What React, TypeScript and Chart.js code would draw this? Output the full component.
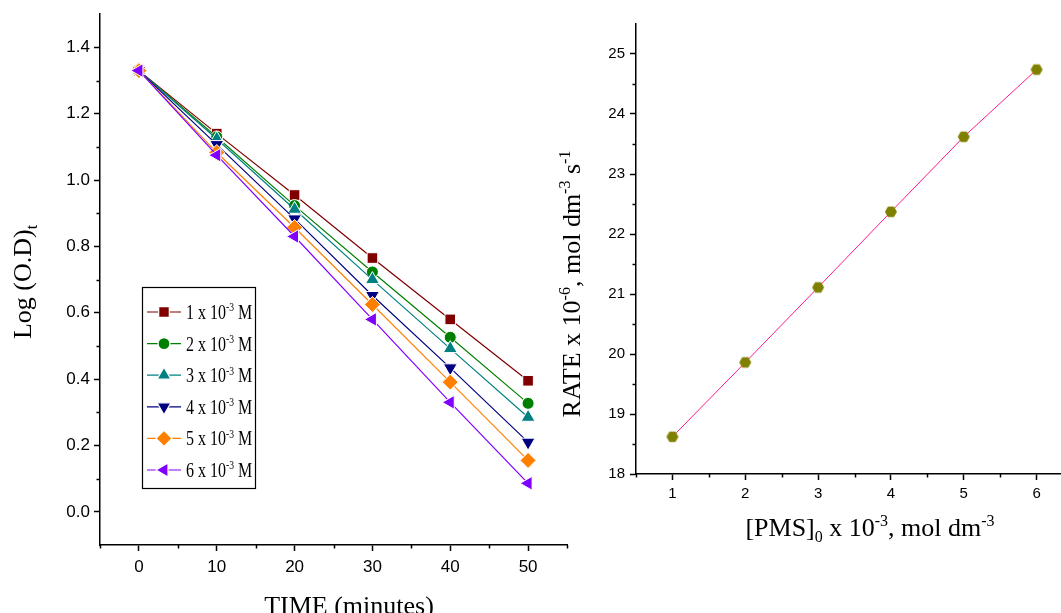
import React, { useEffect, useRef } from 'react';
import { Chart, registerables } from 'chart.js';
import { drawPoint } from 'chart.js/helpers';

Chart.register(...registerables);

// ---------- Left chart data ----------
const timeMinutes = [0, 10, 20, 30, 40, 50];
const logOD_1 = [1.33, 1.14, 0.955, 0.765, 0.58, 0.395];
const logOD_2 = [1.33, 1.13, 0.923, 0.723, 0.526, 0.327];
const logOD_3 = [1.33, 1.124, 0.912, 0.7, 0.492, 0.285];
const logOD_4 = [1.33, 1.107, 0.883, 0.652, 0.434, 0.21];
const logOD_5 = [1.33, 1.083, 0.857, 0.625, 0.391, 0.155];
const logOD_6 = [1.33, 1.075, 0.83, 0.58, 0.33, 0.086];
const concLabels = ['1', '2', '3', '4', '5', '6'];

const leftXTicks = [0, 10, 20, 30, 40, 50];
const leftXMinor = [-5, 5, 15, 25, 35, 45, 55];
const leftYTicks = [0, 0.2, 0.4, 0.6, 0.8, 1.0, 1.2, 1.4];
const leftYMinor = [0.1, 0.3, 0.5, 0.7, 0.9, 1.1, 1.3];

// ---------- Right chart data ----------
const pmsConc = [1, 2, 3, 4, 5, 6];
const rateValues = [18.62, 19.86, 21.11, 22.37, 23.62, 24.74];

const rightXTicks = [1, 2, 3, 4, 5, 6];
const rightXMinor = [0.5, 1.5, 2.5, 3.5, 4.5, 5.5, 6.5];
const rightYTicks = [18, 19, 20, 21, 22, 23, 24, 25];
const rightYMinor = [18.5, 19.5, 20.5, 21.5, 22.5, 23.5, 24.5];

// ---------- styles ----------
const seriesColors = ['#800000', '#008000', '#008080', '#000080', '#FF8000', '#8000FF'];
const seriesMarkers = [
  { pointStyle: 'rect', rotation: 0, radius: 7.5 },
  { pointStyle: 'circle', rotation: 0, radius: 6 },
  { pointStyle: 'triangle', rotation: 0, radius: 8 },
  { pointStyle: 'triangle', rotation: 180, radius: 8 },
  { pointStyle: 'rectRot', rotation: 0, radius: 8 },
  { pointStyle: 'triangle', rotation: 270, radius: 8 },
];

const SERIF = "'Liberation Serif', 'Times New Roman', serif";
const TICKFONT = "'Liberation Sans Narrow', 'Arial Narrow', 'Liberation Sans', Arial, sans-serif";

type Seg = { t: string; s?: 'sup' | 'sub' };

function drawRich(ctx: CanvasRenderingContext2D, segs: Seg[], x: number, y: number, size: number, align: 'center' | 'left') {
  const fontFor = (s: Seg) => `${s.s ? Math.round(size * 0.62) : size}px ${SERIF}`;
  const widths = segs.map((s) => {
    ctx.font = fontFor(s);
    return ctx.measureText(s.t).width;
  });
  const total = widths.reduce((a, b) => a + b, 0);
  let cx = align === 'center' ? x - total / 2 : x;
  ctx.textAlign = 'left';
  ctx.textBaseline = 'alphabetic';
  segs.forEach((s, i) => {
    ctx.font = fontFor(s);
    const dy = s.s === 'sup' ? -size * 0.38 : s.s === 'sub' ? size * 0.22 : 0;
    ctx.fillText(s.t, cx, y + dy);
    cx += widths[i];
  });
}

function minorTicks(xMinor: number[], yMinor: number[], len: number) {
  return {
    id: 'minorTicks',
    afterDraw(chart: any) {
      const { ctx, chartArea } = chart;
      const x = chart.scales.x;
      const y = chart.scales.y;
      ctx.save();
      ctx.strokeStyle = '#000';
      ctx.lineWidth = 1.5;
      ctx.beginPath();
      xMinor.forEach((v) => {
        const px = Math.round(x.getPixelForValue(v)) + 0.5;
        ctx.moveTo(px, chartArea.bottom);
        ctx.lineTo(px, chartArea.bottom + len);
      });
      yMinor.forEach((v) => {
        const py = Math.round(y.getPixelForValue(v)) + 0.5;
        ctx.moveTo(chartArea.left, py);
        ctx.lineTo(chartArea.left - len, py);
      });
      ctx.stroke();
      ctx.restore();
    },
  };
}

function makeHex(r: number, color: string) {
  const c = document.createElement('canvas');
  c.width = c.height = Math.ceil(2 * r + 2);
  const g = c.getContext('2d')!;
  g.fillStyle = color;
  g.beginPath();
  for (let i = 0; i < 6; i++) {
    const a = (Math.PI / 3) * i;
    const px = c.width / 2 + r * Math.cos(a);
    const py = c.height / 2 + r * Math.sin(a);
    if (i === 0) g.moveTo(px, py);
    else g.lineTo(px, py);
  }
  g.closePath();
  g.fill();
  return c;
}

function axisCommon(fontSize: number, pad: number) {
  return {
    grid: { drawOnChartArea: false, drawTicks: true, tickLength: 6, tickColor: '#000', tickWidth: 1.5 },
    border: { display: true, color: '#000', width: 1.5 },
    ticks: { color: '#000', font: { family: TICKFONT, size: fontSize }, padding: pad, maxRotation: 0, autoSkip: false },
  };
}

export default function App() {
  const leftRef = useRef<HTMLCanvasElement>(null);
  const rightRef = useRef<HTMLCanvasElement>(null);

  useEffect(() => {
    const leftSeries = [logOD_1, logOD_2, logOD_3, logOD_4, logOD_5, logOD_6];
    const W1 = 1061;
    const leftChart = new Chart(leftRef.current!, {
      type: 'line',
      data: {
        datasets: leftSeries.map((vals, i) => ({
          label: concLabels[i],
          data: timeMinutes.map((t, j) => ({ x: t, y: vals[j] })),
          borderColor: seriesColors[i],
          backgroundColor: seriesColors[i],
          borderWidth: 1.2,
          pointStyle: seriesMarkers[i].pointStyle as any,
          rotation: seriesMarkers[i].rotation,
          pointRadius: seriesMarkers[i].radius,
          pointBorderColor: '#ffffff',
          pointBorderWidth: 1,
          pointBackgroundColor: seriesColors[i],
          tension: 0,
          order: leftSeries.length - 1 - i,
        })),
      },
      options: {
        responsive: false,
        animation: false,
        layout: { padding: { top: 12, right: W1 - 567, left: 0, bottom: 0 } },
        plugins: { legend: { display: false }, tooltip: { enabled: false } },
        scales: {
          x: {
            type: 'linear',
            min: -5,
            max: 55,
            ...axisCommon(17, 6),
            afterBuildTicks: (s: any) => {
              s.ticks = leftXTicks.map((v) => ({ value: v }));
            },
            afterFit: (s: any) => {
              s.height = 613 - 545;
            },
          },
          y: {
            type: 'linear',
            min: -0.1,
            max: 1.5,
            ...axisCommon(17, 4),
            ticks: { ...axisCommon(17, 4).ticks, callback: (v: any) => Number(v).toFixed(1) },
            afterBuildTicks: (s: any) => {
              s.ticks = leftYTicks.map((v) => ({ value: v }));
            },
            afterFit: (s: any) => {
              s.width = 100;
            },
          },
        },
      },
      plugins: [
        minorTicks(leftXMinor, leftYMinor, 3.5),
        {
          id: 'leftDecor',
          afterDraw(chart: any) {
            const ctx = chart.ctx as CanvasRenderingContext2D;
            ctx.save();
            ctx.fillStyle = '#000';
            // x title
            drawRich(ctx, [{ t: 'TIME (minutes)' }], 349, 614, 26, 'center');
            // y title
            ctx.save();
            ctx.translate(31, 282);
            ctx.rotate(-Math.PI / 2);
            drawRich(ctx, [{ t: 'Log (O.D)' }, { t: 't', s: 'sub' }], 0, 0, 26, 'center');
            ctx.restore();
            // legend
            const bx = 142, by = 287, bw = 113, bh = 201;
            ctx.fillStyle = '#fff';
            ctx.fillRect(bx, by, bw, bh);
            ctx.strokeStyle = '#000';
            ctx.lineWidth = 1.2;
            ctx.strokeRect(bx + 0.5, by + 0.5, bw, bh);
            chart.data.datasets.forEach((ds: any, i: number) => {
              const ry = 312 + i * 31.6;
              ctx.strokeStyle = ds.borderColor;
              ctx.lineWidth = 1.2;
              ctx.beginPath();
              ctx.moveTo(147, ry);
              ctx.lineTo(181, ry);
              ctx.stroke();
              ctx.fillStyle = ds.backgroundColor;
              ctx.strokeStyle = '#fff';
              drawPoint(ctx, { pointStyle: ds.pointStyle, rotation: ds.rotation, radius: ds.pointRadius, borderWidth: 1 } as any, 164, ry);
              ctx.fillStyle = '#000';
              ctx.save();
              ctx.translate(186, ry + 7);
              ctx.scale(0.8, 1);
              drawRich(ctx, [{ t: `${ds.label} x 10` }, { t: '-3', s: 'sup' }, { t: ' M' }], 0, 0, 20, 'left');
              ctx.restore();
            });
            ctx.restore();
          },
        },
      ],
    });

    const W2 = 1100;
    const rightChart = new Chart(rightRef.current!, {
      type: 'line',
      data: {
        datasets: [
          {
            label: 'Rate',
            data: pmsConc.map((c, i) => ({ x: c, y: rateValues[i] })),
            borderColor: '#FF1A8C',
            borderWidth: 1,
            pointStyle: makeHex(6, '#808000') as any,
            pointRadius: 6,
            tension: 0,
          },
        ],
      },
      options: {
        responsive: false,
        animation: false,
        layout: { padding: { top: 24, right: W2 - 1073, left: 0, bottom: 0 } },
        plugins: { legend: { display: false }, tooltip: { enabled: false } },
        scales: {
          x: {
            type: 'linear',
            min: 0.5,
            max: 6.5,
            ...axisCommon(15, 5),
            afterBuildTicks: (s: any) => {
              s.ticks = rightXTicks.map((v) => ({ value: v }));
            },
            afterFit: (s: any) => {
              s.height = 613 - 474;
            },
          },
          y: {
            type: 'linear',
            min: 18,
            max: 25.5,
            ...axisCommon(15, 5),
            afterBuildTicks: (s: any) => {
              s.ticks = rightYTicks.map((v) => ({ value: v }));
            },
            afterFit: (s: any) => {
              s.width = 636;
            },
          },
        },
      },
      plugins: [
        minorTicks(rightXMinor, rightYMinor, 3.5),
        {
          id: 'rightDecor',
          afterDraw(chart: any) {
            const ctx = chart.ctx as CanvasRenderingContext2D;
            ctx.save();
            ctx.fillStyle = '#000';
            drawRich(
              ctx,
              [{ t: '[PMS]' }, { t: '0', s: 'sub' }, { t: ' x 10' }, { t: '-3', s: 'sup' }, { t: ', mol dm' }, { t: '-3', s: 'sup' }],
              870,
              536,
              26,
              'center'
            );
            ctx.translate(580, 284);
            ctx.rotate(-Math.PI / 2);
            drawRich(
              ctx,
              [{ t: 'RATE x 10' }, { t: '-6', s: 'sup' }, { t: ', mol dm' }, { t: '-3', s: 'sup' }, { t: ' s' }, { t: '-1', s: 'sup' }],
              0,
              0,
              26,
              'center'
            );
            ctx.restore();
          },
        },
      ],
    });

    return () => {
      leftChart.destroy();
      rightChart.destroy();
    };
  }, []);

  return (
    <div style={{ position: 'absolute', left: 0, top: 0, width: 1061, height: 613, overflow: 'hidden', background: '#fff' }}>
      <canvas ref={leftRef} width={1061} height={613} style={{ position: 'absolute', left: 0, top: 0 }} />
      <canvas ref={rightRef} width={1100} height={613} style={{ position: 'absolute', left: 0, top: 0 }} />
    </div>
  );
}
